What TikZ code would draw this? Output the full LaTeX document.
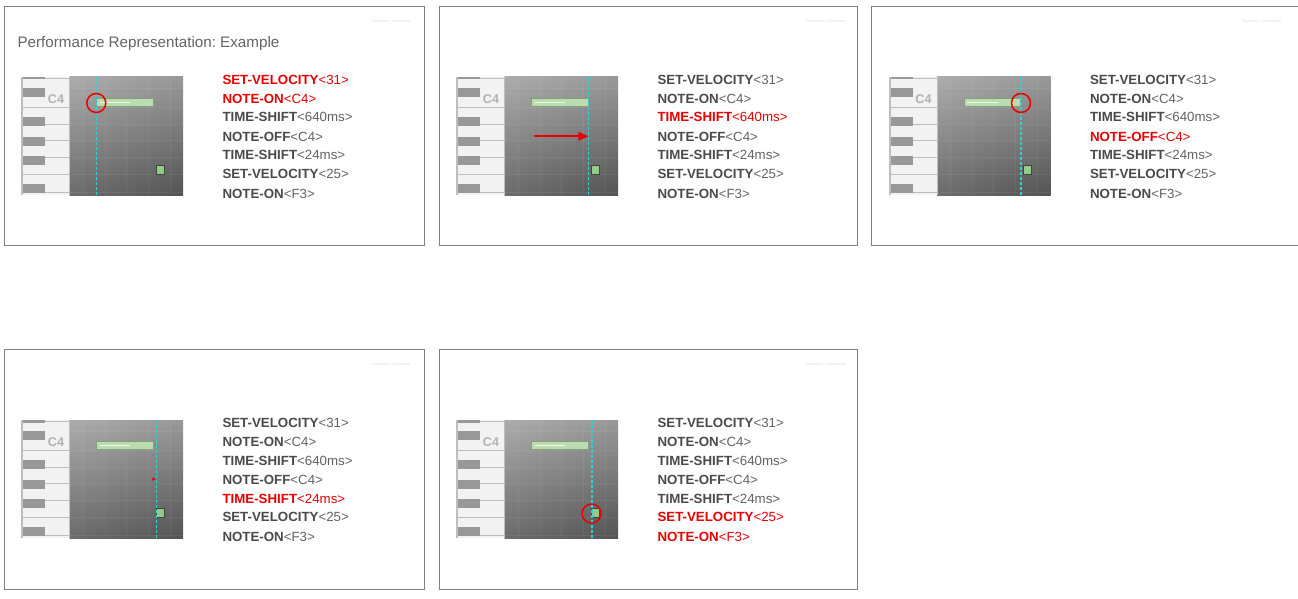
\documentclass[tikz,border=0pt]{standalone}
\usepackage{fontspec}
\setmainfont{Liberation Sans}
\usetikzlibrary{arrows.meta,shadings}
\frenchspacing
\definecolor{hib}{RGB}{232,0,0}
\colorlet{hir}{hib}
\definecolor{lob}{RGB}{74,74,74}
\definecolor{lor}{RGB}{98,98,98}
\definecolor{titlec}{RGB}{100,100,100}
\definecolor{framec}{RGB}{128,128,128}
\definecolor{cyanc}{RGB}{40,212,218}
\definecolor{keywc}{RGB}{242,242,242}
\definecolor{keylinec}{RGB}{190,190,190}
\definecolor{blackkeyc}{RGB}{152,152,152}
\definecolor{c4c}{RGB}{178,178,178}
\definecolor{notefill}{RGB}{186,220,174}
\definecolor{notedraw}{RGB}{130,160,122}
\definecolor{notehl}{RGB}{238,248,234}
\definecolor{sqfill}{RGB}{146,204,136}
\definecolor{sqdraw}{RGB}{60,72,58}
\definecolor{propc}{RGB}{218,218,218}
\definecolor{gul}{RGB}{172,172,172}
\definecolor{gur}{RGB}{152,152,152}
\definecolor{gll}{RGB}{108,108,108}
\definecolor{glr}{RGB}{84,84,84}
\tikzset{
  x=1pt, y=-1pt,
  frame/.style={draw=framec, line width=0.9pt},
  evtext/.style={anchor=base west, inner sep=0pt, font=\fontsize{13.3}{15}\selectfont},
  titlestyle/.style={anchor=base west, inner sep=0pt, text=titlec, font=\fontsize{15.2}{18}\selectfont},
  propstyle/.style={inner sep=0pt, text=propc, font=\fontsize{3.45}{4}\selectfont},
  keyline/.style={draw=keylinec, line width=0.9pt},
  blackkey/.style={fill=blackkeyc},
  c4lab/.style={inner sep=0pt, text=c4c, font=\bfseries\fontsize{12.6}{14}\selectfont},
  gridline/.style={draw=white, draw opacity=0.06, line width=0.8pt},
  notebar/.style={fill=notefill, draw=notedraw, line width=0.8pt},
  notesq/.style={fill=sqfill, draw=sqdraw, line width=0.8pt},
  cursor/.style={draw=cyanc, line width=1.4pt, dash pattern=on 3pt off 2pt},
  ring/.style={circle, draw=hib, line width=1.5pt, inner sep=0pt, minimum size=19pt},
  movearrow/.style={draw=hib, line width=1.8pt, -{Triangle[length=10pt,width=8.5pt]}},
  tinyarrow/.style={draw=hib, line width=0.8pt, -{Triangle[length=3pt,width=3.5pt]}},
}
\newcommand\evrow[5]{\node[evtext,text=#3b] (#1) at (222.3,#2) {\textbf{#4}\textcolor{#3r}{#5}};}
\newcommand\evlist[8]{%
  \evrow{#1a}{84.4}{#2}{SET-VELOCITY}{<31>}%
  \evrow{#1b}{103.7}{#3}{NOTE-ON}{<C4>}%
  \evrow{#1c}{122}{#4}{TIME-SHIFT}{<640ms>}%
  \evrow{#1d}{141.4}{#5}{NOTE-OFF}{<C4>}%
  \evrow{#1e}{160}{#6}{TIME-SHIFT}{<24ms>}%
  \evrow{#1f}{178.4}{#7}{SET-VELOCITY}{<25>}%
  \evrow{#1g}{198.4}{#8}{NOTE-ON}{<F3>}}
\newcommand\pianoroll[2]{%
  \fill[keywc] (21,77) rectangle (69.5,195);
  \fill[keylinec] (21,77) rectangle (23,195);
  \draw[keyline] (23,78) -- (69.5,78);
  \foreach \yy in {107.3,124.7,140.7,157.3,174,192.3} \draw[keyline] (23,\yy) -- (69.5,\yy);
  \foreach \ya/\yb in {77/79.5,88/97.3,116.7/125.7,136.7/145.7,155.7/164.7,184/193} \fill[blackkey] (23,\ya) rectangle (45.3,\yb);
  \node[c4lab] (#1c4) at (56,99) {C4};
  \shade[upper left=gul, upper right=gur, lower left=gll, lower right=glr]
        (69.5,77) rectangle (183,195);
  \draw[keylinec, line width=1pt] (69.5,77) -- (69.5,195);
  \foreach \yy in {88,107.3,124.7,140.7,157.3,174,192.3} \draw[gridline] (69.5,\yy) -- (183,\yy);
  \foreach \xx in {83,105,126,148,170} \draw[gridline] (\xx,77) -- (\xx,195);
  \draw[notebar] (96.5,98) rectangle (153,106.5);
  \draw[notehl, line width=1.6pt] (99.5,102.4) -- (130,102.4);
  \draw[notesq] (156,165) rectangle (164.3,174);
  \coordinate (#1top) at (#2,77);
  \coordinate (#1bot) at (#2,196.5);
  \draw[cursor] (#1top) -- (#1bot);
}
\begin{document}
\begin{tikzpicture}
\useasboundingbox (0,0) rectangle (1298,599);
\fill[white] (0,0) rectangle (1298,599);
% Panel 1
\begin{scope}
  \draw[frame] (4.3,6.3) rectangle (424.5,245.3);
  \node[propstyle] (p1prop) at (391,21.7) {Proprietary + Confidential};
  \node[titlestyle] (title) at (17.3,48) {Performance Representation: Example};
  \pianoroll{p1}{96.3}
  \node[ring] (p1ring) at (96.3,103) {};
  \evlist{p1}{hi}{hi}{lo}{lo}{lo}{lo}{lo}
\end{scope}
% Panel 2
\begin{scope}[shift={(435,0)}]
  \draw[frame] (4.3,6.3) rectangle (422.5,245.3);
  \node[propstyle] (p2prop) at (391,21.7) {Proprietary + Confidential};
  \pianoroll{p2}{153.3}
  \coordinate (p2from) at (99,136.3);
  \coordinate (p2to) at (153.3,136.3);
  \draw[movearrow] (p2from) -- (p2to);
  \evlist{p2}{lo}{lo}{hi}{lo}{lo}{lo}{lo}
\end{scope}
% Panel 3
\begin{scope}[shift={(867.5,0)}]
  \draw[frame] (4.3,6.3) rectangle (440,245.3);
  \node[propstyle] (p3prop) at (394,21.7) {Proprietary + Confidential};
  \pianoroll{p3}{153.5}
  \node[ring] (p3ring) at (153.5,103) {};
  \evlist{p3}{lo}{lo}{lo}{hi}{lo}{lo}{lo}
\end{scope}
% Panel 4
\begin{scope}[shift={(0,343)}]
  \draw[frame] (4.3,6.3) rectangle (424.5,246.3);
  \node[propstyle] (p4prop) at (391,21.7) {Proprietary + Confidential};
  \pianoroll{p4}{156.3}
  \coordinate (p4from) at (151.5,136);
  \coordinate (p4to) at (155.5,136);
  \draw[tinyarrow] (p4from) -- (p4to);
  \evlist{p4}{lo}{lo}{lo}{lo}{hi}{lo}{lo}
\end{scope}
% Panel 5
\begin{scope}[shift={(435,343)}]
  \draw[frame] (4.3,6.3) rectangle (422.5,246.3);
  \node[propstyle] (p5prop) at (391,21.7) {Proprietary + Confidential};
  \pianoroll{p5}{156.8}
  \node[ring] (p5ring) at (156.6,170.5) {};
  \evlist{p5}{lo}{lo}{lo}{lo}{lo}{hi}{hi}
\end{scope}
\end{tikzpicture}
\end{document}
